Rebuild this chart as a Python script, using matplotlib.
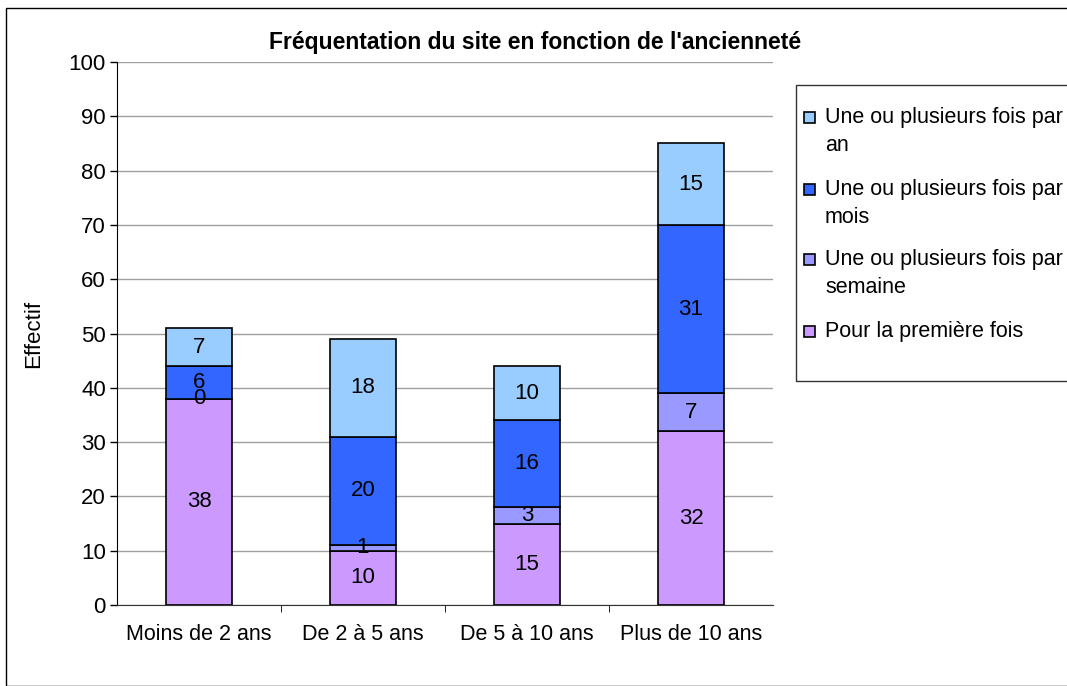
import matplotlib.pyplot as plt
from matplotlib.patches import Rectangle
import numpy as np

plt.rcParams["font.family"] = ["Liberation Sans", "DejaVu Sans"]

categories = ["Moins de 2 ans", "De 2 à 5 ans", "De 5 à 10 ans", "Plus de 10 ans"]
premiere = [38, 10, 15, 32]
semaine = [0, 1, 3, 7]
mois = [6, 20, 16, 31]
an = [7, 18, 10, 15]

series = [
    ("Pour la première fois", premiere, "#CC99FF"),
    ("Une ou plusieurs fois par\nsemaine", semaine, "#9999FF"),
    ("Une ou plusieurs fois par\nmois", mois, "#3366FF"),
    ("Une ou plusieurs fois par\nan", an, "#99CCFF"),
]

W, H = 1067, 686
fig = plt.figure(figsize=(W / 100, H / 100), dpi=100, facecolor="white")

# outer chart frame
fig.patches.append(Rectangle((6 / W, 0), 1.1, 1 - 8 / H, transform=fig.transFigure,
                             fill=False, edgecolor="black", linewidth=1.0))

ax = fig.add_axes([117 / W, 1 - 605 / H, (773 - 117) / W, (605 - 62) / H])

x = np.arange(len(categories))
bottom = np.zeros(len(categories))
for name, vals, color in series:
    vals = np.array(vals)
    ax.bar(x, vals, 0.4, bottom=bottom, color=color, edgecolor="black", linewidth=1.2, zorder=3)
    for xi, b, v in zip(x, bottom, vals):
        ax.text(xi, b + v / 2, str(v), ha="center", va="center", fontsize=16, zorder=4)
    bottom += vals

ax.set_xlim(-0.5, len(categories) - 0.5)
ax.set_ylim(0, 100)
ax.set_yticks(range(0, 101, 10))
ax.tick_params(axis="y", labelsize=16, direction="out", length=5, width=1, pad=3)
ax.set_xticks(x)
ax.set_xticklabels(categories, fontsize=15.5)
ax.tick_params(axis="x", length=0, pad=14)
ax.set_xticks(np.arange(0.5, len(categories) - 0.5), minor=True)
ax.tick_params(axis="x", which="minor", length=5, direction="out")
ax.grid(axis="y", color="#a0a0a0", linewidth=1, zorder=0)
ax.spines["top"].set_visible(False)
ax.spines["right"].set_visible(False)
ax.spines["left"].set_color("black")
ax.spines["bottom"].set_color("#333333")
ax.set_ylabel("Effectif", fontsize=16, labelpad=18)

fig.text(535 / W, 1 - 42 / H, "Fréquentation du site en fonction de l'ancienneté",
         ha="center", va="center", fontsize=16.5, fontweight="bold")

# legend
fig.patches.append(Rectangle((796 / W, 1 - 381 / H), 1.0, (381 - 85) / H,
                             transform=fig.transFigure, fill=False, edgecolor="#333333", linewidth=1))
ys = [117, 189, 259, 331]
for (name, vals, color), y in zip(series[::-1], ys):
    fig.patches.append(Rectangle((804 / W, 1 - (y + 6) / H), 11 / W, 11 / H,
                                 transform=fig.transFigure, facecolor=color,
                                 edgecolor="black", linewidth=1.2))
    fig.text(825 / W, 1 - (y - 10) / H, name, ha="left", va="top", fontsize=15.5, linespacing=1.45)

fig.savefig("out.png", dpi=100, facecolor="white")
